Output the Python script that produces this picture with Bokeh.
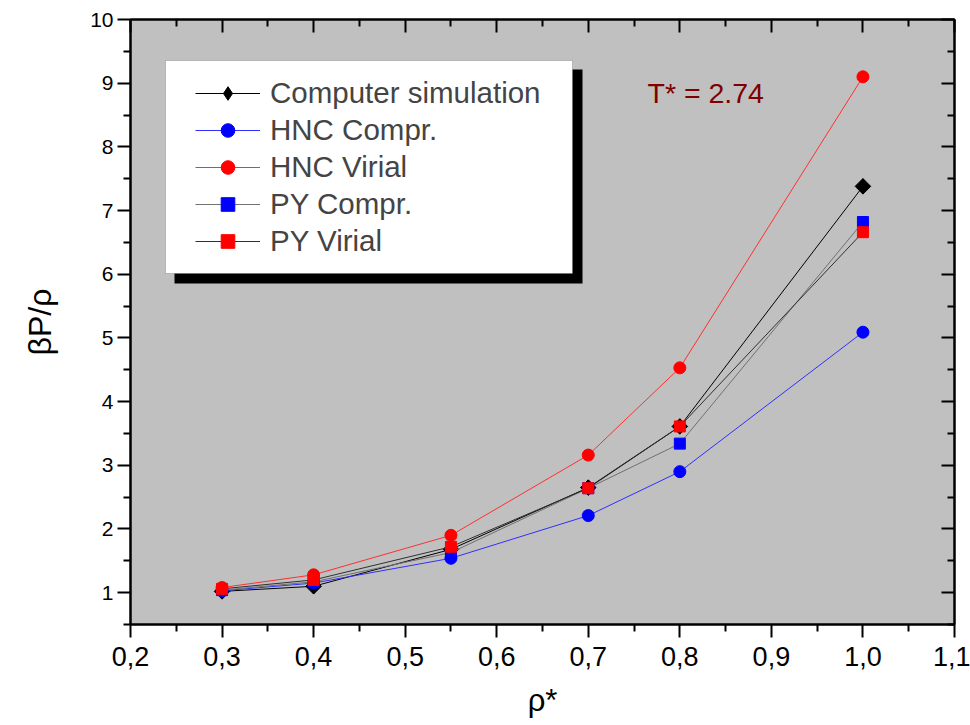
import numpy as np
from bokeh.plotting import figure
from bokeh.models import (Range1d, FixedTicker, CustomJSTickFormatter, LinearAxis,
                          Legend, LegendItem, BoxAnnotation, Label)
from bokeh.embed import file_html
from bokeh.resources import INLINE

# ---- data ----
rho = [0.3, 0.4, 0.55, 0.7, 0.8, 1.0]
sim = [1.02, 1.10, 1.68, 2.65, 3.61, 7.38]
hnc_compr = [1.03, 1.15, 1.54, 2.21, 2.90, 5.09]
hnc_virial = [1.08, 1.28, 1.90, 3.16, 4.53, 9.10]
py_compr = [1.04, 1.17, 1.63, 2.64, 3.34, 6.82]
py_virial = [1.06, 1.20, 1.72, 2.64, 3.61, 6.66]

x_ticks = [0.2, 0.3, 0.4, 0.5, 0.6, 0.7, 0.8, 0.9, 1.0, 1.1]
x_minor = [0.25, 0.35, 0.45, 0.55, 0.65, 0.75, 0.85, 0.95, 1.05]
y_ticks = [1, 2, 3, 4, 5, 6, 7, 8, 9, 10]
y_minor = [0.5, 1.5, 2.5, 3.5, 4.5, 5.5, 6.5, 7.5, 8.5, 9.5]

FONT = "Liberation Sans"

p = figure(width=970, height=725, output_backend="svg", toolbar_location=None,
           x_range=Range1d(0.2, 1.1), y_range=Range1d(0.5, 10),
           min_border_left=130, min_border_right=16, min_border_top=19, min_border_bottom=101,
           background_fill_color="#c0c0c0", border_fill_color="white",
           outline_line_color="black", outline_line_width=2)
p.grid.visible = False

xt = FixedTicker(ticks=x_ticks, minor_ticks=x_minor)
yt = FixedTicker(ticks=y_ticks, minor_ticks=y_minor)
xfmt = CustomJSTickFormatter(code="return tick.toFixed(1).replace('.', ',');")

xa = p.xaxis[0]
xa.ticker = xt
xa.formatter = xfmt
xa.axis_label = "ρ*"
ya = p.yaxis[0]
ya.ticker = yt
ya.axis_label = "βP/ρ"

for ax in (xa, ya):
    ax.axis_line_width = 2
    ax.major_tick_line_width = 2
    ax.minor_tick_line_width = 2
    ax.major_tick_in = 0
    ax.major_tick_out = 13
    ax.minor_tick_in = 0
    ax.minor_tick_out = 7
    ax.major_label_text_font = FONT
    ax.axis_label_text_font = FONT
    ax.axis_label_text_font_style = "normal"
    ax.axis_label_text_color = "black"
    ax.major_label_text_color = "black"

xa.major_label_text_font_size = "27px"
xa.major_label_standoff = 9
xa.axis_label_text_font_size = "31px"
xa.axis_label_standoff = 14
ya.major_label_text_font_size = "21px"
ya.major_label_standoff = 4
ya.axis_label_text_font_size = "32px"
ya.axis_label_standoff = 29

# mirrored axes with inward ticks
top = LinearAxis(ticker=FixedTicker(ticks=x_ticks, minor_ticks=x_minor))
right = LinearAxis(ticker=FixedTicker(ticks=y_ticks, minor_ticks=y_minor))
for ax in (top, right):
    ax.axis_line_width = 2
    ax.major_tick_line_width = 2
    ax.minor_tick_line_width = 2
    ax.major_tick_in = 13
    ax.major_tick_out = 0
    ax.minor_tick_in = 7
    ax.minor_tick_out = 0
    ax.major_label_text_font_size = "1px"
    ax.major_label_text_alpha = 0
    ax.major_label_standoff = 0
p.add_layout(top, "above")
p.add_layout(right, "right")

# ---- series ----
specs = [
    ("Computer simulation", sim, "black", "square", 11, np.pi / 4, "black"),
    ("HNC Compr.", hnc_compr, "#3030ff", "circle", 12, 0, "#0000ff"),
    ("PY Compr.", py_compr, "#707070", "square", 11, 0, "#0000ff"),
    ("PY Virial", py_virial, "#303030", "square", 11, 0, "#ff0000"),
    ("HNC Virial", hnc_virial, "#ff3030", "circle", 12, 0, "#ff0000"),
]
items = {}
for name, ys, lc, mk, sz, ang, mc in specs:
    lr = p.line(rho, ys, line_color=lc, line_width=1)
    key = None
    if ang:
        # legend ignores marker rotation: a diamond drawn under the rotated square serves as key
        key = p.scatter(rho, ys, marker="diamond", size=15, fill_color=mc, line_color=mc)
    sr = p.scatter(rho, ys, marker=mk, size=sz, angle=ang, fill_color=mc, line_color=mc)
    items[name] = LegendItem(label=name, renderers=[lr, key if key is not None else sr])

order = ["Computer simulation", "HNC Compr.", "HNC Virial", "PY Compr.", "PY Virial"]

shadow = BoxAnnotation(left=44, right=452, top=555, bottom=341,
                       left_units="screen", right_units="screen", top_units="screen", bottom_units="screen",
                       fill_color="black", fill_alpha=1, line_alpha=0)
box = BoxAnnotation(left=35, right=442, top=564, bottom=351,
                    left_units="screen", right_units="screen", top_units="screen", bottom_units="screen",
                    fill_color="white", fill_alpha=1, line_color="#555555", line_width=1)
p.add_layout(shadow)
p.add_layout(box)

legend = Legend(items=[items[n] for n in order], location=(65, 366),
                padding=0, margin=0, spacing=3, label_height=34, glyph_height=34,
                glyph_width=65, label_standoff=10, label_text_font=FONT,
                label_text_font_size="29.5px", border_line_alpha=0, background_fill_alpha=0)
p.add_layout(legend)

p.add_layout(Label(x=517, y=532, x_units="screen", y_units="screen", text="T* = 2.74",
                   text_font=FONT, text_font_size="28.5px", text_color="#800000",
                   text_baseline="alphabetic"))

open("out.html", "w").write(file_html(p, INLINE))
